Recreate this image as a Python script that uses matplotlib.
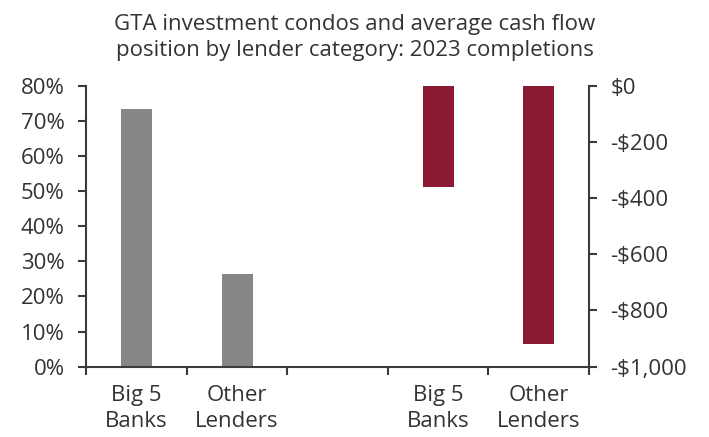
import numpy as np
import matplotlib
matplotlib.use("Agg")
import matplotlib.pyplot as plt
from matplotlib.ticker import FuncFormatter, FixedLocator

# data
categories = ["Big 5\nBanks", "Other\nLenders", "", "Big 5\nBanks", "Other\nLenders"]
share_pct = [73.5, 26.3]          # left axis, share of investment condos
cash_flow = [-362, -919]          # right axis, avg monthly cash flow ($)
share_pos = [0, 1]
cash_pos = [3, 4]

plt.rcParams['font.family'] = ['Open Sans', 'DejaVu Sans']
txt = '#333333'
axc = '#3a3a3a'
fs = 16

fig = plt.figure(figsize=(7.09, 4.37), dpi=100)
ax = fig.add_axes([0.1217, 0.1609, 0.7090, 0.6430])
ax2 = ax.twinx()

ax.bar(share_pos, share_pct, width=0.31, color='#878787', zorder=2)
ax2.bar(cash_pos, cash_flow, width=0.31, color='#8b1a33', zorder=2)

ax.set_xlim(-0.5, 4.5)
ax.set_ylim(0, 80)
ax.set_yticks(np.arange(0, 81, 10))
ax.yaxis.set_major_formatter(FuncFormatter(lambda v, p: f"{v:.0f}%"))
ax2.set_ylim(-1000, 0)
ax2.set_yticks(np.arange(-1000, 1, 200))
ax2.yaxis.set_major_formatter(
    FuncFormatter(lambda v, p: "$0" if v == 0 else f"-${abs(v):,.0f}"))

# category labels between slot ticks
ax.set_xticks(range(len(categories)))
ax.set_xticklabels(categories, fontsize=fs, color=txt, linespacing=1.3)
ax.tick_params(axis='x', which='major', length=0, pad=13)
ax.xaxis.set_minor_locator(FixedLocator(np.arange(-0.5, 4.6, 1)))
ax.tick_params(axis='x', which='minor', length=5.5, width=1.5, color=axc, direction='out')

ax.tick_params(axis='y', length=5.5, width=1.5, color=axc, labelsize=fs, labelcolor=txt, pad=10)
ax2.tick_params(axis='y', length=5.5, width=1.5, color=axc, labelsize=fs, labelcolor=txt, pad=10)

for a in (ax, ax2):
    a.spines['top'].set_visible(False)
    for s in ('left', 'right', 'bottom'):
        a.spines[s].set_color(axc)
        a.spines[s].set_linewidth(1.5)
ax.spines['right'].set_visible(False)
ax2.spines['left'].set_visible(False)
ax2.spines['bottom'].set_visible(False)

fig.text(0.5, 0.968, "GTA investment condos and average cash flow\nposition by lender category: 2023 completions",
         ha='center', va='top', fontsize=fs, color=txt, linespacing=1.3)

fig.savefig("out.png", dpi=100)
